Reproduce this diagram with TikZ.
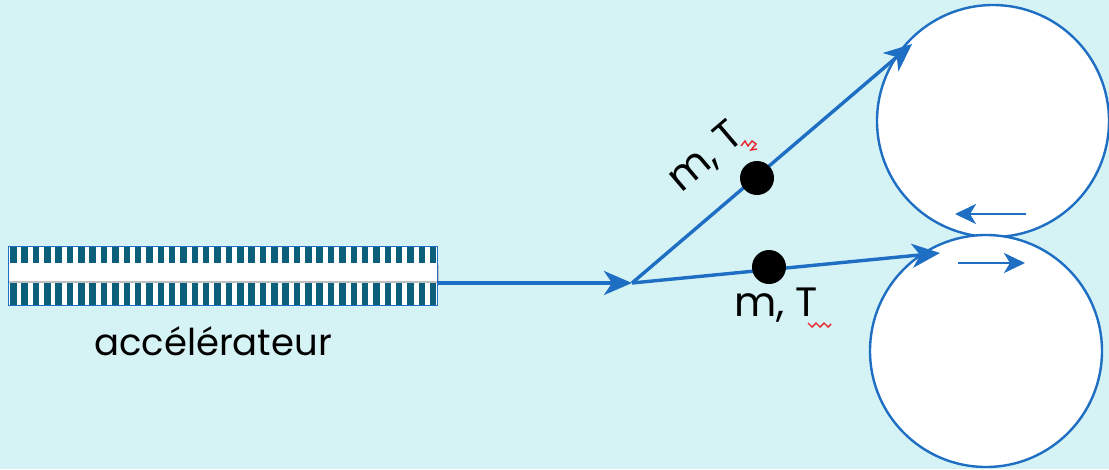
\documentclass[tikz,border=0pt]{standalone}
\usepackage{fontspec}
\setmainfont{Poppins}
\usetikzlibrary{arrows.meta,decorations.pathmorphing}
\definecolor{bg}{HTML}{D5F2F4}
\definecolor{arrowblue}{HTML}{1E6EC4}
\definecolor{stripe}{HTML}{0B5F7B}
\definecolor{squig}{HTML}{E8242A}
\tikzset{
  flow/.style={draw=arrowblue, line width=3.4pt, -{Stealth[length=28pt,width=24pt,inset=8pt]}},
  roller/.style={circle, draw=arrowblue, line width=2.4pt, fill=white, minimum size=232pt, inner sep=0pt},
  ball/.style={circle, fill=black, minimum size=34pt, inner sep=0pt},
  lbl/.style={font=\fontsize{37}{40}\selectfont, inner sep=0pt},
  mtlbl/.style={font=\fontsize{41}{44}\selectfont, inner sep=0pt},
  spin/.style={draw=arrowblue, line width=2.6pt, -{Stealth[length=21pt,width=20pt,inset=6pt]}},
  squiggle/.style={draw=squig, line width=1.4pt}
}
\begin{document}
\begin{tikzpicture}[x=1pt,y=-1pt]
\useasboundingbox (0,0) rectangle (1109,469);
\fill[bg] (0,0) rectangle (1109,469);
% rollers
\node[roller] (top) at (993,121) {};
\node[roller] (bot) at (986,351) {};
% accelerator
\fill[white] (8,246) rectangle (437,305);
\foreach \i in {0,...,37} {
  \fill[stripe] ({10+\i*11.35},246) rectangle ({16.5+\i*11.35},305);
}
\fill[black!25] (8,265) rectangle (439,283);
\fill[white] (8,263) rectangle (437,281);
\draw[arrowblue, line width=0.9pt] (8,246) rectangle (437,305);
\node[lbl, anchor=base] (acc) at (213,355) {accélérateur};
% beam
\coordinate (src) at (437,283);
\coordinate (v) at (632,283);
\coordinate (t1) at (912,44);
\coordinate (t2) at (940,253);
\draw[flow] (src) -- (v);
\draw[flow] (v) -- (t1);
\draw[flow] (v) -- (t2);
% particles
\node[ball] (b1) at (757,178) {};
\node[ball] (b2) at (769,267) {};
\node[mtlbl, rotate=40.4] (l1) at (706,158) {m, T};
\node[mtlbl, anchor=base] (l2) at (776,316) {m, T};
\draw[squiggle] (741,146) -- (745,141) -- (748,146) -- (752,141) -- (756,144) -- (751,150) -- (757,149);
\draw[squiggle] (808,323) -- (812,327) -- (816,323) -- (820,327) -- (824,323) -- (828,327) -- (831,324);
% spin arrows
\coordinate (s1a) at (1026,214);
\coordinate (s1b) at (955,214);
\coordinate (s2a) at (958,263);
\coordinate (s2b) at (1025,263);
\draw[spin] (s1a) -- (s1b);
\draw[spin] (s2a) -- (s2b);
\end{tikzpicture}
\end{document}
